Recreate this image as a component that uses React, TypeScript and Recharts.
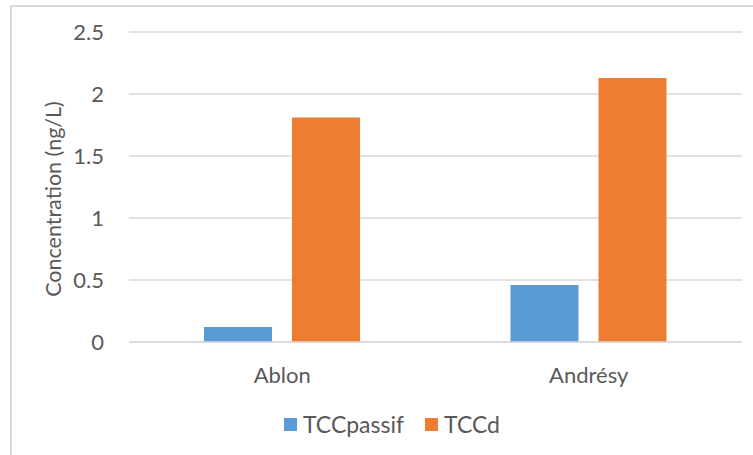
import React from 'react';
import { BarChart, Bar, XAxis, YAxis, CartesianGrid, Legend } from 'recharts';

const sites = ['Ablon', 'Andrésy'];
const tccPassif = [0.12, 0.46];
const tccD = [1.81, 2.13];
const yTicks = [0, 0.5, 1, 1.5, 2, 2.5];

const data = sites.map((site, i) => ({
  site,
  TCCpassif: tccPassif[i],
  TCCd: tccD[i],
}));

const FONT = 'Lato, "Open Sans", sans-serif';
const TEXT = '#595959';
const GRID = '#D9D9D9';
const BLUE = '#5B9BD5';
const ORANGE = '#ED7D31';

const renderLegend = () => (
  <div
    style={{
      display: 'flex',
      justifyContent: 'center',
      alignItems: 'center',
      height: 24,
      fontFamily: FONT,
      fontSize: 23,
      color: TEXT,
      paddingLeft: 42,
    }}
  >
    {[
      { name: 'TCCpassif', color: BLUE },
      { name: 'TCCd', color: ORANGE },
    ].map((item, i) => (
      <div key={item.name} style={{ display: 'flex', alignItems: 'center', marginLeft: i ? 21 : 0 }}>
        <span style={{ width: 13, height: 13, background: item.color, display: 'inline-block', marginRight: 6 }} />
        <span style={{ lineHeight: '24px' }}>{item.name}</span>
      </div>
    ))}
  </div>
);

const App: React.FC = () => {
  return (
    <div style={{ position: 'absolute', left: 0, top: 0, width: 753, height: 455, overflow: 'hidden', background: '#fff' }}>
      <div
        style={{
          position: 'absolute',
          left: 10,
          top: 5,
          width: 780,
          height: 500,
          border: `2px solid ${GRID}`,
        }}
      />
      <BarChart
        width={753}
        height={455}
        data={data}
        margin={{ top: 32, right: 11, left: 0, bottom: 19 }}
        barSize={68}
        barGap={20}
      >
        <CartesianGrid vertical={false} stroke={GRID} strokeWidth={1.3} />
        <XAxis
          dataKey="site"
          height={70}
          axisLine={{ stroke: GRID, strokeWidth: 1.3 }}
          tickLine={false}
          tickMargin={19}
          tick={{ fill: TEXT, fontSize: 22, fontFamily: FONT }}
        />
        <YAxis
          width={129}
          domain={[0, 2.5]}
          ticks={yTicks}
          axisLine={false}
          tickLine={false}
          tickMargin={19}
          tick={{ fill: TEXT, fontSize: 22, fontFamily: FONT }}
          label={{
            value: 'Concentration (ng/L)',
            angle: -90,
            position: 'center',
            dx: -11,
            dy: 12,
            fill: TEXT,
            fontSize: 21.5,
            fontFamily: FONT,
          }}
        />
        <Legend verticalAlign="bottom" content={renderLegend} />
        <Bar dataKey="TCCpassif" fill={BLUE} isAnimationActive={false} />
        <Bar dataKey="TCCd" fill={ORANGE} isAnimationActive={false} />
      </BarChart>
    </div>
  );
};

export default App;
